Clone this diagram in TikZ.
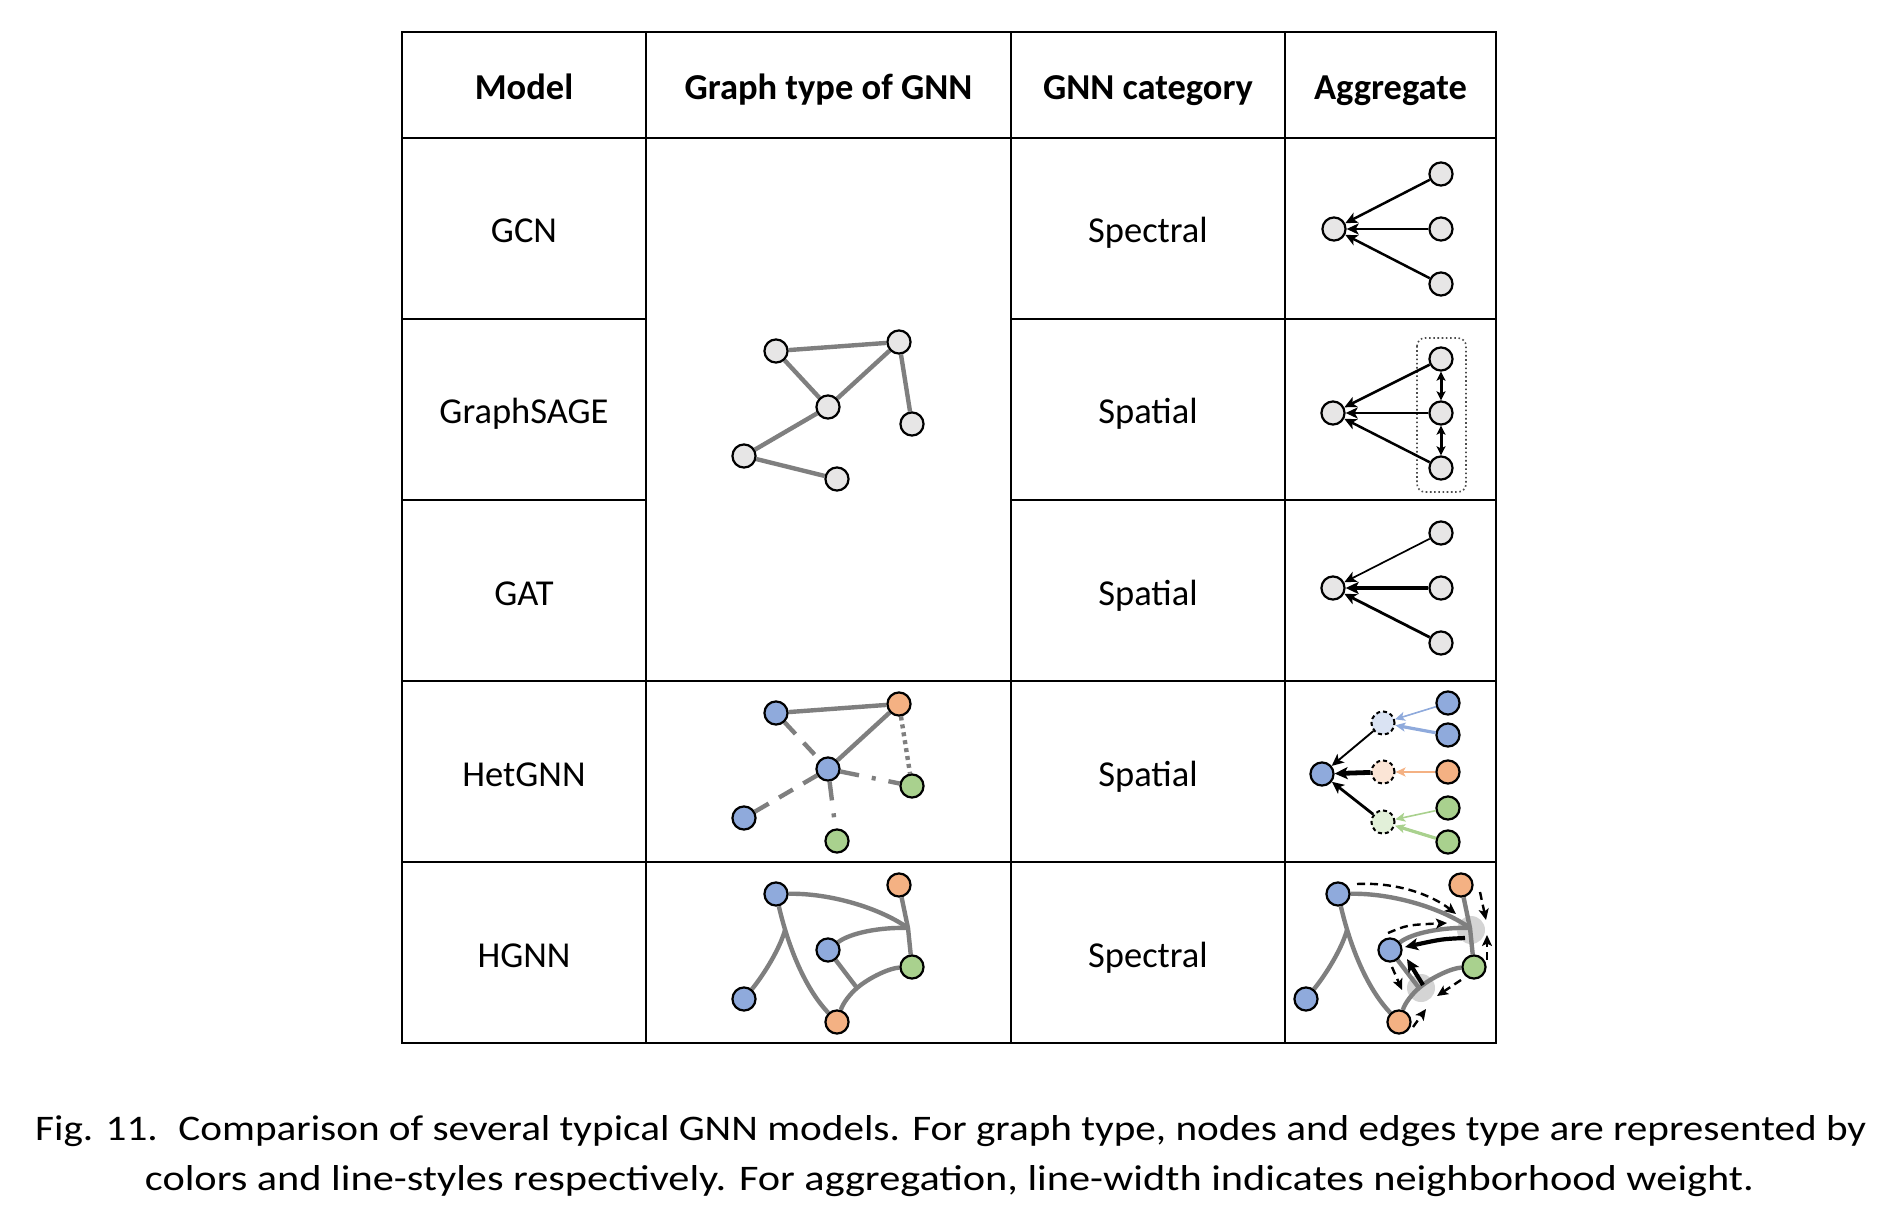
\documentclass[tikz,border=0pt]{standalone}
\usepackage{fontspec}
\setmainfont{Carlito}
\usetikzlibrary{arrows.meta}
\pgfdeclarelayer{background}
\pgfsetlayers{background,main}
\definecolor{ngray}{HTML}{E7E6E6}
\definecolor{nblue}{HTML}{8FAADC}
\definecolor{norange}{HTML}{F4B183}
\definecolor{ngreen}{HTML}{A9D18E}
\definecolor{lblue}{HTML}{DAE3F3}
\definecolor{lorange}{HTML}{FBE5D6}
\definecolor{lgreen}{HTML}{E2F0D9}
\definecolor{egray}{HTML}{7F7F7F}
\definecolor{blobgray}{HTML}{D4D4D4}
\begin{document}
\begin{tikzpicture}[x=1pt,y=-1pt,
  grid/.style={line width=1.9pt,black},
  hd/.style={font=\bfseries\fontsize{36.5}{40}\selectfont,anchor=base,inner sep=0pt},
  bd/.style={font=\fontsize{36.5}{40}\selectfont,anchor=base,inner sep=0pt},
  captext/.style={font=\fontsize{36}{42}\selectfont,inner sep=0pt},
  gn/.style={circle,draw=black,line width=2.2pt,minimum size=23.1pt,inner sep=0pt,fill=ngray},
  bn/.style={gn,fill=nblue},
  on/.style={gn,fill=norange},
  grn/.style={gn,fill=ngreen},
  dn/.style={gn,dash pattern=on 4pt off 3pt,line width=2pt},
  edge/.style={draw=egray,line width=4.4pt},
  dashedge/.style={edge,dash pattern=on 16pt off 12pt},
  dotedge/.style={edge,dash pattern=on 4pt off 4pt},
  dotdashedge/.style={edge,dash pattern=on 19pt off 13pt on 4pt off 13pt},
  ar/.style={black,line width=#1,-{Stealth[length=12pt,width=11pt,inset=3pt]}},
  arb/.style={black,line width=#1,-{Stealth[length=13pt,width=12pt,inset=3pt]}},
  car/.style={line width=#1,-{Stealth[length=10pt,width=9pt,inset=2.5pt]}},
  dbl/.style={black,line width=3pt,{Stealth[length=9pt,width=9pt,inset=2pt]}-{Stealth[length=9pt,width=9pt,inset=2pt]}},
  dar/.style={black,line width=2.4pt,dash pattern=on 8pt off 5pt,-{Stealth[length=11pt,width=10pt,inset=2.5pt]}},
  sar/.style={black,line width=4.2pt,-{Stealth[length=13pt,width=12pt,inset=3pt]}},
  blob/.style={fill=blobgray}
]
\useasboundingbox (0,0) rectangle (1888,1214);

% ---------- table grid ----------
\draw[grid] (402,32) rectangle (1496,1043);
\draw[grid] (402,138) -- (1496,138);
\draw[grid] (402,319) -- (646,319) (1011,319) -- (1496,319);
\draw[grid] (402,500) -- (646,500) (1011,500) -- (1496,500);
\draw[grid] (402,681) -- (1496,681);
\draw[grid] (402,862) -- (1496,862);
\draw[grid] (646,32) -- (646,1043);
\draw[grid] (1011,32) -- (1011,1043);
\draw[grid] (1285,32) -- (1285,1043);

% ---------- header ----------
\node[hd] (hmodel) at (524,100) {Model};
\node[hd] (hgraph) at (828.5,100) {Graph type of GNN};
\node[hd] (hcat) at (1148,100) {GNN category};
\node[hd] (hagg) at (1390.5,100) {Aggregate};

% ---------- rows text ----------
\node[bd] (m1) at (524,243) {GCN};
\node[bd] (m2) at (524,424) {GraphSAGE};
\node[bd] (m3) at (524,605) {GAT};
\node[bd] (m4) at (524,786) {HetGNN};
\node[bd] (m5) at (524,967) {HGNN};
\node[bd] (k1) at (1148,243) {Spectral};
\node[bd] (k2) at (1148,424) {Spatial};
\node[bd] (k3) at (1148,605) {Spatial};
\node[bd] (k4) at (1148,786) {Spatial};
\node[bd] (k5) at (1148,967) {Spectral};

% ---------- homogeneous graph ----------
\node[gn] (a1) at (776,351) {};
\node[gn] (b1) at (899,342) {};
\node[gn] (c1) at (828,407) {};
\node[gn] (d1) at (912,424) {};
\node[gn] (e1) at (744,456) {};
\node[gn] (f1) at (837,479) {};
\begin{pgfonlayer}{background}
\draw[edge] (a1) -- (b1);
\draw[edge] (a1) -- (c1);
\draw[edge] (c1) -- (b1);
\draw[edge] (b1) -- (d1);
\draw[edge] (c1) -- (e1);
\draw[edge] (e1) -- (f1);
\end{pgfonlayer}

% ---------- heterogeneous graph ----------
\begin{scope}[shift={(0,362)}]
\node[bn] (a2) at (776,351) {};
\node[on] (b2) at (899,342) {};
\node[bn] (c2) at (828,407) {};
\node[grn] (d2) at (912,424) {};
\node[bn] (e2) at (744,456) {};
\node[grn] (f2) at (837,479) {};
\end{scope}
\begin{pgfonlayer}{background}
\draw[edge] (a2) -- (b2);
\draw[dashedge] (a2) -- (c2);
\draw[edge] (c2) -- (b2);
\draw[dotedge] (b2) -- (d2);
\draw[dotdashedge] (c2) -- (d2);
\draw[dashedge] (c2) -- (e2);
\draw[dotdashedge] (c2) -- (f2);
\end{pgfonlayer}

% ---------- hypergraph ----------
\begin{scope}[shift={(0,543)}]
\node[bn] (a3) at (776,351) {};
\node[on] (b3) at (899,342) {};
\node[bn] (c3) at (828,407) {};
\node[grn] (d3) at (912,424) {};
\node[bn] (e3) at (744,456) {};
\node[on] (f3) at (837,479) {};
\coordinate (j31) at (908,385);
\coordinate (j32) at (857,445);
\coordinate (j33) at (785,387);
\begin{pgfonlayer}{background}
\draw[edge] (a3) .. controls (830,350) and (880,365) .. (j31);
\draw[edge] (c3) .. controls (850,390) and (880,384) .. (j31);
\draw[edge] (b3) -- (j31) -- (d3);
\draw[edge] (f3) .. controls (843,460) and (850,451) .. (j32) .. controls (870,434) and (890,425) .. (d3);
\draw[edge] (c3) -- (j32);
\draw[edge] (a3) .. controls (785,390) and (800,440) .. (f3);
\draw[edge] (e3) .. controls (765,430) and (780,405) .. (j33);
\end{pgfonlayer}
\end{scope}

% ---------- GCN aggregate ----------
\node[gn] (g0) at (1334,229) {};
\node[gn] (g1) at (1441,174) {};
\node[gn] (g2) at (1441,229) {};
\node[gn] (g3) at (1441,284) {};
\draw[ar=2.5pt] (g1) -- (g0);
\draw[ar=2.5pt] (g2) -- (g0);
\draw[ar=2.5pt] (g3) -- (g0);

% ---------- GraphSAGE aggregate ----------
\node[gn] (s0) at (1333,413) {};
\node[gn] (s1) at (1441,359) {};
\node[gn] (s2) at (1441,413) {};
\node[gn] (s3) at (1441,468) {};
\begin{pgfonlayer}{background}
\draw[draw=black!70,line width=1.6pt,dash pattern=on 1.6pt off 2.6pt,rounded corners=8pt] (1417,338) rectangle (1466,492);
\end{pgfonlayer}
\draw[ar=2.5pt] (s1) -- (s0);
\draw[ar=2.5pt] (s2) -- (s0);
\draw[ar=2.5pt] (s3) -- (s0);
\draw[dbl] (s1) -- (s2);
\draw[dbl] (s2) -- (s3);

% ---------- GAT aggregate ----------
\node[gn] (t0) at (1333,588) {};
\node[gn] (t1) at (1441,533) {};
\node[gn] (t2) at (1441,588) {};
\node[gn] (t3) at (1441,643) {};
\draw[ar=1.7pt] (t1) -- (t0);
\draw[arb=4.4pt] (t2) -- (t0);
\draw[ar=2.8pt] (t3) -- (t0);

% ---------- HetGNN aggregate ----------
\node[bn] (h0) at (1322,774) {};
\node[dn,fill=lblue] (i1) at (1383,723) {};
\node[dn,fill=lorange] (i2) at (1383,772) {};
\node[dn,fill=lgreen] (i3) at (1383,822) {};
\node[bn] (r1) at (1448,703) {};
\node[bn] (r2) at (1448,735) {};
\node[on] (r3) at (1448,772) {};
\node[grn] (r4) at (1448,808) {};
\node[grn] (r5) at (1448,842) {};
\draw[car=1.6pt,nblue] (r1) -- (i1);
\draw[car=3.2pt,nblue] (r2) -- (i1);
\draw[car=2.4pt,norange] (r3) -- (i2);
\draw[car=1.6pt,ngreen] (r4) -- (i3);
\draw[car=3.2pt,ngreen] (r5) -- (i3);
\draw[ar=1.9pt] (i1) -- (h0);
\draw[arb=4.8pt] (i2) -- (h0);
\draw[ar=2.8pt] (i3) -- (h0);

% ---------- HGNN aggregate ----------
\begin{scope}[shift={(562,543)}]
\node[bn] (a4) at (776,351) {};
\node[on] (b4) at (899,342) {};
\node[bn] (c4) at (828,407) {};
\node[grn] (d4) at (912,424) {};
\node[bn] (e4) at (744,456) {};
\node[on] (f4) at (837,479) {};
\coordinate (j41) at (908,385);
\coordinate (j42) at (857,445);
\coordinate (j43) at (785,387);
\begin{pgfonlayer}{background}
\fill[blob] (909,387) circle (14);
\fill[blob] (859,445) circle (14);
\draw[edge] (a4) .. controls (830,350) and (880,365) .. (j41);
\draw[edge] (c4) .. controls (850,390) and (880,384) .. (j41);
\draw[edge] (b4) -- (j41) -- (d4);
\draw[edge] (f4) .. controls (843,460) and (850,451) .. (j42) .. controls (870,434) and (890,425) .. (d4);
\draw[edge] (c4) -- (j42);
\draw[edge] (a4) .. controls (785,390) and (800,440) .. (f4);
\draw[edge] (e4) .. controls (765,430) and (780,405) .. (j43);
\end{pgfonlayer}
\coordinate (p1s) at (795,341); \coordinate (p1e) at (894,371);
\coordinate (p2s) at (918,349); \coordinate (p2e) at (924,377);
\coordinate (p3s) at (826,390); \coordinate (p3e) at (885,380);
\coordinate (p4s) at (903,395); \coordinate (p4e) at (843,404);
\coordinate (p5s) at (925,417); \coordinate (p5e) at (925,392);
\coordinate (p6s) at (861,442); \coordinate (p6e) at (845,416);
\coordinate (p7s) at (830,424); \coordinate (p7e) at (840,447);
\coordinate (p8s) at (899,437); \coordinate (p8e) at (875,453);
\coordinate (p9s) at (851,484); \coordinate (p9e) at (864,466);
\draw[dar] (p1s) .. controls (835,339) and (870,352) .. (p1e);
\draw[dar] (p2s) -- (p2e);
\draw[dar] (p3s) .. controls (845,382) .. (p3e);
\draw[sar] (p4s) .. controls (880,396) .. (p4e);
\draw[dar] (p5s) -- (p5e);
\draw[sar] (p6s) -- (p6e);
\draw[dar] (p7s) -- (p7e);
\draw[dar] (p8s) -- (p8e);
\draw[dar] (p9s) -- (p9e);
\end{scope}

% ---------- caption ----------
\node[captext,anchor=base west] (cap1) at (35,1140) {\resizebox{1831pt}{\height}{Fig. 11.\hspace{0.2em} Comparison of several typical GNN models. For graph type, nodes and edges type are represented by}};
\node[captext,anchor=base] (cap2) at (949.5,1190) {\resizebox{1609pt}{\height}{colors and line-styles respectively. For aggregation, line-width indicates neighborhood weight.}};
\end{tikzpicture}
\end{document}
